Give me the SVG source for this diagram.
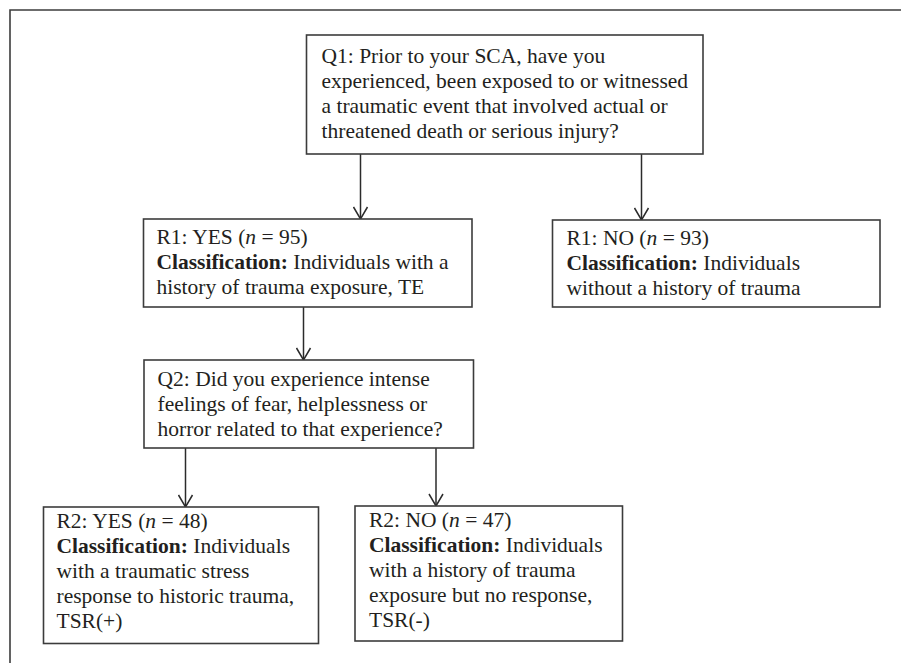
<svg xmlns="http://www.w3.org/2000/svg" width="901" height="663" viewBox="0 0 901 663">
<defs>
<marker id="arr" viewBox="0 0 14 16" refX="13" refY="8" markerWidth="14" markerHeight="16" markerUnits="userSpaceOnUse" orient="auto">
<path d="M1,1 L13,8 L1,15" fill="none" stroke="#2b2b2b" stroke-width="1.5"/>
</marker>
<style>
.box{fill:#fff;stroke:#3c3c3c;stroke-width:1.6}
.t{font-family:"Liberation Serif","Times New Roman",serif;font-size:21.5px;fill:#231f20}
.b{font-weight:bold}
.i{font-style:italic}
.c{stroke:#2b2b2b;stroke-width:1.5;fill:none}
</style>
</defs>
<rect width="901" height="663" fill="#fff"/>
<path d="M10,663 V10 H901" fill="none" stroke="#3c3c3c" stroke-width="1.6"/>

<g id="connectors">
<line class="c" x1="360.5" y1="154" x2="360.5" y2="219" marker-end="url(#arr)"/>
<line class="c" x1="641.5" y1="154" x2="641.5" y2="220" marker-end="url(#arr)"/>
<line class="c" x1="303.5" y1="307" x2="303.5" y2="360" marker-end="url(#arr)"/>
<line class="c" x1="185.5" y1="448" x2="185.5" y2="507" marker-end="url(#arr)"/>
<line class="c" x1="436" y1="448" x2="436" y2="506" marker-end="url(#arr)"/>
</g>

<g id="q1">
<rect class="box" x="306.5" y="35" width="396.5" height="119"/>
<text class="t" x="321.5" y="63">Q1: Prior to your SCA, have you</text>
<text class="t" x="321.5" y="88">experienced, been exposed to or witnessed</text>
<text class="t" x="321.5" y="113">a traumatic event that involved actual or</text>
<text class="t" x="321.5" y="138">threatened death or serious injury?</text>
</g>

<g id="r1yes">
<rect class="box" x="143.5" y="219" width="328.5" height="88"/>
<text class="t" x="156.5" y="244">R1: YES (<tspan class="i">n</tspan> = 95)</text>
<text class="t" x="156.5" y="269"><tspan class="b">Classification:</tspan> Individuals with a</text>
<text class="t" x="156.5" y="294">history of trauma exposure, TE</text>
</g>

<g id="r1no">
<rect class="box" x="552.5" y="220" width="327.5" height="87"/>
<text class="t" x="566.5" y="245">R1: NO (<tspan class="i">n</tspan> = 93)</text>
<text class="t" x="566.5" y="270"><tspan class="b">Classification:</tspan> Individuals</text>
<text class="t" x="566.5" y="295">without a history of trauma</text>
</g>

<g id="q2">
<rect class="box" x="144" y="360" width="329.5" height="88"/>
<text class="t" x="157.5" y="386">Q2: Did you experience intense</text>
<text class="t" x="157.5" y="411">feelings of fear, helplessness or</text>
<text class="t" x="157.5" y="436">horror related to that experience?</text>
</g>

<g id="r2yes">
<rect class="box" x="43.5" y="507" width="275" height="136.5"/>
<text class="t" x="56.5" y="528">R2: YES (<tspan class="i">n</tspan> = 48)</text>
<text class="t" x="56.5" y="553"><tspan class="b">Classification:</tspan> Individuals</text>
<text class="t" x="56.5" y="578">with a traumatic stress</text>
<text class="t" x="56.5" y="603">response to historic trauma,</text>
<text class="t" x="56.5" y="628">TSR(+)</text>
</g>

<g id="r2no">
<rect class="box" x="355" y="506" width="267.5" height="135"/>
<text class="t" x="369" y="527">R2: NO (<tspan class="i">n</tspan> = 47)</text>
<text class="t" x="369" y="552"><tspan class="b">Classification:</tspan> Individuals</text>
<text class="t" x="369" y="577">with a history of trauma</text>
<text class="t" x="369" y="602">exposure but no response,</text>
<text class="t" x="369" y="627">TSR(-)</text>
</g>
</svg>
